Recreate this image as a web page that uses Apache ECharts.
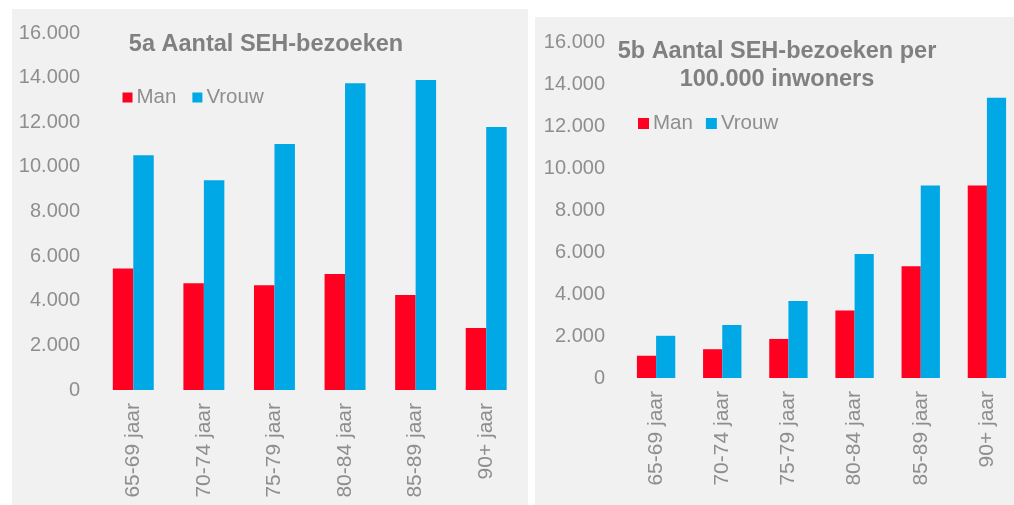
<!DOCTYPE html>
<html>
<head>
<meta charset="utf-8">
<script src="https://cdn.jsdelivr.net/npm/echarts@6/dist/echarts.min.js"></script>
<style>
html,body{margin:0;padding:0;background:#fff;overflow:hidden;width:1014px;height:505px;}
#c{width:1020px;height:505px;}
</style>
</head>
<body>
<div id="c"></div>
<script>
const categories = ['65-69 jaar','70-74 jaar','75-79 jaar','80-84 jaar','85-89 jaar','90+ jaar'];
const manA = [5450, 4780, 4690, 5200, 4260, 2780];
const vrouwA = [10520, 9400, 11020, 13750, 13890, 11790];
const manB = [1060, 1370, 1860, 3220, 5320, 9170];
const vrouwB = [2010, 2520, 3670, 5900, 9170, 13350];
const yTicks = [0, 2000, 4000, 6000, 8000, 10000, 12000, 14000, 16000];
const titleA = '5a Aantal SEH-bezoeken';
const titleB = '5b Aantal SEH-bezoeken per\n100.000 inwoners';

const RED = '#FF0020';
const BLUE = '#00A9E5';
const LABEL = '#8E8E8E';
const FONT = 'Liberation Sans, Arial, sans-serif';

function fmt(v){ return String(v).replace(/\B(?=(\d{3})+(?!\d))/g, '.'); }

const chart = echarts.init(document.getElementById('c'), null, {renderer:'canvas'});

function xAxis(gi){
  return {
    type:'category', gridIndex:gi, data:categories,
    axisLine:{show:false}, axisTick:{show:false},
    axisLabel:{rotate:90, color:LABEL, fontSize:21, fontFamily:FONT, margin:13, interval:0}
  };
}
function yAxis(gi){
  return {
    type:'value', gridIndex:gi, min:yTicks[0], max:yTicks[yTicks.length-1], interval:2000,
    splitLine:{show:false}, axisLine:{show:false}, axisTick:{show:false},
    axisLabel:{color:LABEL, fontSize:20, fontFamily:FONT, margin:18, formatter:fmt}
  };
}
const barCommon = {type:'bar', barGap:'0%', barCategoryGap:'42%'};

chart.setOption({
  animation:false,
  graphic:[
    {type:'rect', z:-10, shape:{x:12, y:9, width:516, height:496}, style:{fill:'#F1F1F1'}},
    {type:'rect', z:-10, shape:{x:535, y:17, width:485, height:488}, style:{fill:'#F1F1F1'}}
  ],
  title:[
    {text:titleA, left:266, top:31, textAlign:'center', padding:0,
     textStyle:{color:'#808080', fontSize:23.5, fontWeight:'bold', fontFamily:FONT, lineHeight:28}},
    {text:titleB, left:777, top:38, textAlign:'center', padding:0,
     textStyle:{color:'#808080', fontSize:23.5, fontWeight:'bold', fontFamily:FONT, lineHeight:28}}
  ],
  legend:[
    {data:['Man','Vrouw'], left:122.5, top:87, padding:0, itemWidth:10, itemHeight:10, itemGap:16,
     icon:'rect', textStyle:{color:LABEL, fontSize:20.5, fontFamily:FONT, padding:[0,0,0,-1]}},
    {data:['Man B','Vrouw B'], left:638, top:113, padding:0, itemWidth:11, itemHeight:11, itemGap:13,
     icon:'rect', formatter:function(n){return n.replace(' B','');},
     textStyle:{color:LABEL, fontSize:20.5, fontFamily:FONT, padding:[0,0,0,-1]}}
  ],
  grid:[
    {left:98, top:33, width:423.5, height:357},
    {left:623, top:42, width:397, height:336}
  ],
  xAxis:[xAxis(0), xAxis(1)],
  yAxis:[yAxis(0), yAxis(1)],
  series:[
    Object.assign({name:'Man', xAxisIndex:0, yAxisIndex:0, data:manA, itemStyle:{color:RED}}, barCommon),
    Object.assign({name:'Vrouw', xAxisIndex:0, yAxisIndex:0, data:vrouwA, itemStyle:{color:BLUE}}, barCommon),
    Object.assign({name:'Man B', xAxisIndex:1, yAxisIndex:1, data:manB, itemStyle:{color:RED}}, barCommon),
    Object.assign({name:'Vrouw B', xAxisIndex:1, yAxisIndex:1, data:vrouwB, itemStyle:{color:BLUE}}, barCommon)
  ]
});
</script>
</body>
</html>
